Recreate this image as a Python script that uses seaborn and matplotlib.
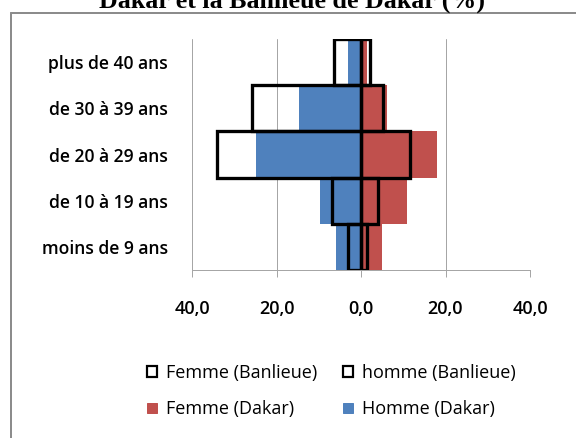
import numpy as np
import pandas as pd
import matplotlib
matplotlib.use("Agg")
import matplotlib.pyplot as plt
import seaborn as sns
from matplotlib.patches import Patch
from matplotlib.lines import Line2D
from matplotlib.ticker import FixedLocator, FuncFormatter

# ---- data ----
categories = ["plus de 40 ans", "de 30 à 39 ans", "de 20 à 29 ans",
              "de 10 à 19 ans", "moins de 9 ans"]
homme_dakar = [3.0, 14.6, 24.9, 9.7, 6.0]
femme_dakar = [1.5, 6.2, 18.1, 11.0, 5.0]
homme_banlieue = [6.4, 25.9, 34.0, 6.9, 3.0]
femme_banlieue = [2.1, 5.3, 11.6, 4.1, 1.5]
x_ticks = [-40, -20, 0, 20, 40]
title = "Dakar et la Banlieue de Dakar (%)"
legend_labels = ["Femme (Banlieue)", "homme (Banlieue)", "Femme (Dakar)", "Homme (Dakar)"]

BLUE = "#4F81BD"
RED = "#C0504D"
GRID = "#a6a6a6"

sns.set_theme(style="white")
plt.rcParams['font.family'] = ['Open Sans', 'DejaVu Sans']
plt.rcParams['text.color'] = 'black'

W, H = 576, 438
fig = plt.figure(figsize=(W / 72, H / 72), dpi=72)
fig.patch.set_facecolor("white")
ax = fig.add_axes([192 / W, 1 - 270 / H, (530 - 192) / W, (270 - 39) / H])

df = pd.DataFrame({
    "cat": categories,
    "homme_dakar": -np.array(homme_dakar),
    "femme_dakar": np.array(femme_dakar),
    "homme_banlieue": -np.array(homme_banlieue),
    "femme_banlieue": np.array(femme_banlieue),
})

common = dict(y="cat", data=df, order=categories, width=1.0, errorbar=None,
              orient="h", ax=ax)
sns.barplot(x="homme_dakar", color=BLUE, saturation=1, linewidth=0, zorder=2, **common)
sns.barplot(x="femme_dakar", color=RED, saturation=1, linewidth=0, zorder=2, **common)
sns.barplot(x="homme_banlieue", color="black", fill=False, linewidth=3.3, zorder=4, **common)
sns.barplot(x="femme_banlieue", color="black", fill=False, linewidth=3.3, zorder=4, **common)

ax.axvline(0, color=GRID, lw=1.2, zorder=3)

ax.set_xlim(-40, 40)
ax.set_ylim(4.5, -0.5)
ax.xaxis.set_major_locator(FixedLocator(x_ticks))
ax.xaxis.set_major_formatter(FuncFormatter(lambda v, p: f"{abs(v):.1f}".replace(".", ",")))
ax.set_axisbelow(True)
ax.xaxis.grid(True, color=GRID, lw=1)
ax.yaxis.grid(False)
ax.set_xlabel("")
ax.set_ylabel("")

for s in ["top", "right", "left"]:
    ax.spines[s].set_visible(False)
ax.spines["bottom"].set_color(GRID)
ax.spines["bottom"].set_linewidth(1)

ax.tick_params(axis="x", bottom=True, length=7, width=1, color=GRID, direction="out",
               pad=23, labelsize=18, labelcolor="black")
ax.tick_params(axis="y", left=False, length=0, pad=24, labelsize=17.5, labelcolor="black")
for lab in ax.get_xticklabels() + ax.get_yticklabels():
    lab.set_fontweight("semibold")

# legend: two columns placed at fixed positions
h_fb = Patch(facecolor="white", edgecolor="black", linewidth=2.2)
h_hb = Patch(facecolor="white", edgecolor="black", linewidth=2.2)
h_fd = Patch(facecolor=RED, edgecolor=RED)
h_hd = Patch(facecolor=BLUE, edgecolor=BLUE)
leg_kw = dict(loc="upper left", frameon=False, borderpad=0, borderaxespad=0,
              handlelength=0.55, handleheight=0.55, handletextpad=0.5,
              labelspacing=1.02, labelcolor="black",
              prop={"family": "Open Sans", "size": 18})
leg1 = fig.legend([h_fb, h_fd], [legend_labels[0], legend_labels[2]],
                  bbox_to_anchor=(147 / W, 1 - 364 / H), **leg_kw)
leg2 = fig.legend([h_hb, h_hd], [legend_labels[1], legend_labels[3]],
                  bbox_to_anchor=(343 / W, 1 - 364 / H), **leg_kw)

# title (top partially cut, as in the reference)
fig.text(292 / W, 1 - 8 / H, title, ha="center", va="baseline",
         fontfamily="Liberation Serif", fontweight="bold", fontsize=26)

# chart-area border (only left and top visible)
fig.add_artist(Line2D([11 / W, 1], [1 - 13 / H, 1 - 13 / H], transform=fig.transFigure,
                      color="#8c8c8c", lw=2))
fig.add_artist(Line2D([11 / W, 11 / W], [0, 1 - 13 / H], transform=fig.transFigure,
                      color="#8c8c8c", lw=2))

fig.savefig("out.png", dpi=72)
